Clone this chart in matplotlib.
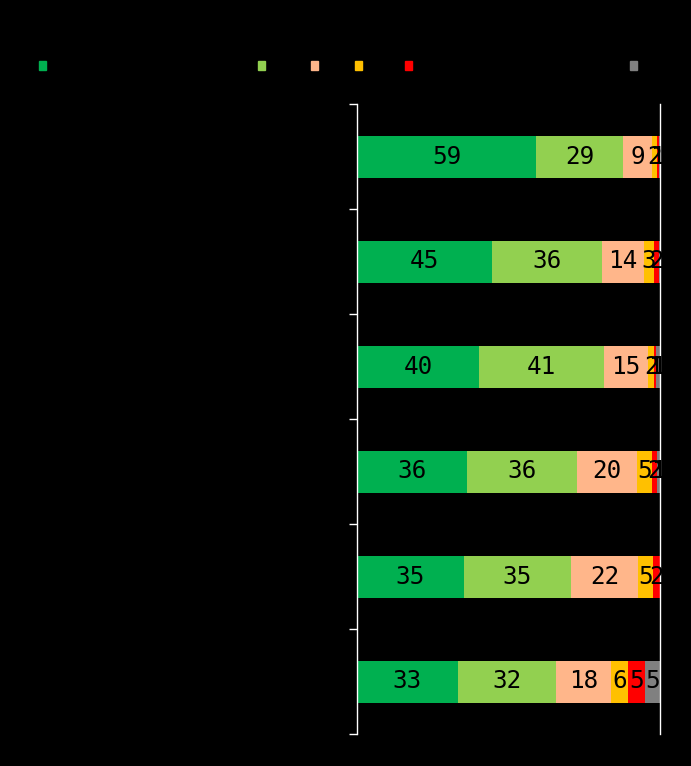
import matplotlib.pyplot as plt
from matplotlib.patches import Rectangle
import numpy as np

plt.rcParams['font.family'] = ['Noto Sans CJK JP', 'DejaVu Sans']

# Data (percent, rows from top to bottom)
categories = ['1', '2', '3', '4', '5', '6']
series = ['s1', 's2', 's3', 's4', 's5', 's6']
vals_1 = [59.2, 44.7, 40.2, 36.3, 35.3, 33.2]
vals_2 = [28.7, 36.2, 41.2, 36.3, 35.3, 32.4]
vals_3 = [9.4, 13.9, 14.8, 19.8, 22.1, 18.3]
vals_4 = [1.6, 3.2, 1.8, 4.9, 5.0, 5.7]
vals_5 = [0.7, 1.7, 0.7, 1.7, 2.3, 5.4]
vals_6 = [0.4, 0.3, 1.3, 1.0, 0.0, 5.0]
colors = ['#00B050', '#92D050', '#FFB68A', '#FFC000', '#FF0000', '#808080']

data = [vals_1, vals_2, vals_3, vals_4, vals_5, vals_6]

fig = plt.figure(figsize=(6.91, 7.66), dpi=100, facecolor='black')
ax = fig.add_axes([357 / 691, 32 / 766, 303 / 691, 630 / 766])
ax.set_facecolor('black')

y = np.arange(len(categories))
left = np.zeros(len(categories))
for vals, col in zip(data, colors):
    vals = np.array(vals)
    ax.barh(y, vals, left=left, height=0.4, color=col)
    for yi, l, v in zip(y, left, vals):
        if v >= 0.5:
            ax.text(l + v / 2, yi, f'{v:.0f}', ha='center', va='center',
                    fontsize=17.5, color='black', family='DejaVu Sans Mono')
    left += vals

ax.set_xlim(0, 100)
ax.set_ylim(len(categories) - 0.5, -0.5)
ax.set_xticks([])
ax.set_yticks(np.arange(len(categories) + 1) - 0.5)
ax.set_yticklabels([])
ax.set_yticks(y, minor=True)
ax.set_yticklabels(categories, minor=True, color='black')
ax.tick_params(axis='y', which='major', length=6, color='white', width=1)
ax.tick_params(axis='y', which='minor', length=0)
for s in ['top', 'bottom']:
    ax.spines[s].set_visible(False)
for s in ['left', 'right']:
    ax.spines[s].set_color('white')
    ax.spines[s].set_linewidth(1)

# legend row at the top
legend_x = [39, 258, 311, 355, 405, 630]
for lx, name, col in zip(legend_x, series, colors):
    fig.add_artist(Rectangle((lx / 691, 1 - 70 / 766), 7 / 691, 9 / 766,
                             transform=fig.transFigure, color=col))
    fig.text((lx + 11) / 691, 1 - 65 / 766, name, color='black',
             fontsize=10, va='center')

plt.savefig('out.png', dpi=100, facecolor='black')
